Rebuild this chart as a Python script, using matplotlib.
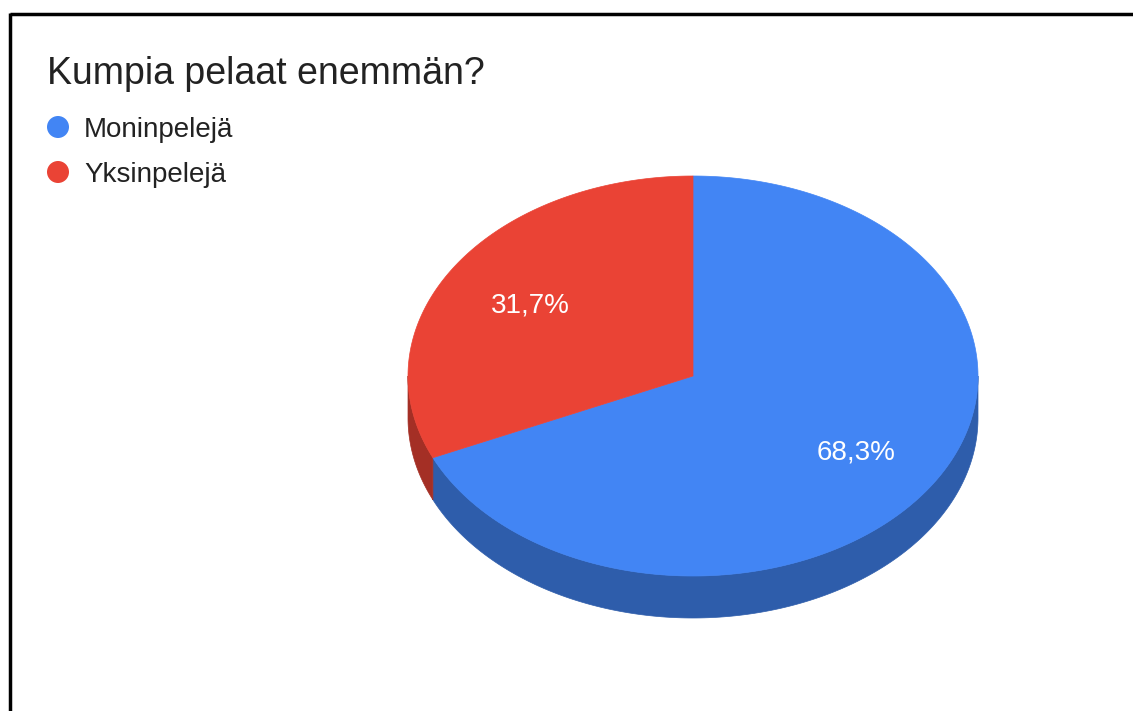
import numpy as np
import matplotlib.pyplot as plt
from matplotlib.patches import Polygon, Circle

plt.rcParams['font.family'] = ['Liberation Sans', 'DejaVu Sans']

# data
title = "Kumpia pelaat enemmän?"
labels = ["Moninpelejä", "Yksinpelejä"]
values = [68.3, 31.7]
colors = ["#4285f4", "#ea4335"]
side_colors = ["#2e5dab", "#a42f25"]

# pie geometry (pixels)
cx, cy = 693, 376
rx, ry = 285, 200
depth = 42

fig = plt.figure(figsize=(11.33, 7.11), dpi=100)
ax = fig.add_axes([0, 0, 1, 1])
ax.set_xlim(0, 1133)
ax.set_ylim(711, 0)
ax.axis('off')


def pt(theta, dy=0):
    # theta in degrees, clockwise from 12 o'clock
    t = np.radians(theta)
    return np.column_stack([cx + rx * np.sin(t), cy - ry * np.cos(t) + dy])


fracs = np.array(values) / sum(values)
starts = np.concatenate([[0], np.cumsum(fracs)[:-1]]) * 360
ends = np.cumsum(fracs) * 360

# side walls (front half only: 90..270 deg)
for s, e, c in zip(starts, ends, side_colors):
    a, b = max(s, 90), min(e, 270)
    if b <= a:
        continue
    th = np.linspace(a, b, 200)
    top = pt(th)
    bot = pt(th[::-1], depth)
    ax.add_patch(Polygon(np.vstack([top, bot]), closed=True, facecolor=c,
                         edgecolor=c, lw=0.5))

# top faces
for s, e, c in zip(starts, ends, colors):
    th = np.linspace(s, e, 300)
    poly = np.vstack([[cx, cy], pt(th)])
    ax.add_patch(Polygon(poly, closed=True, facecolor=c, edgecolor=c, lw=0.5))

# percentage labels
for s, e, v in zip(starts, ends, values):
    m = (s + e) / 2
    t = np.radians(m)
    x = cx + 0.68 * rx * np.sin(t)
    y = cy - 0.68 * ry * np.cos(t)
    ax.text(x, y + 10, f"{v:.1f}%".replace('.', ','), color='white',
            fontsize=20, ha='center', va='baseline')

# title
ax.text(47, 84, title, fontsize=27, ha='left', va='baseline', color='#222222')

# legend
for i, (lab, c) in enumerate(zip(labels, colors)):
    y = 127 + i * 45
    ax.add_patch(Circle((58, y), 11, facecolor=c, edgecolor='none'))
    ax.text(84, y + 10, lab, fontsize=20, ha='left', va='baseline',
            color='#222222')

# frame (top and left border)
ax.plot([10, 1133], [14, 14], color='black', lw=2.5, solid_capstyle='butt')
ax.plot([10, 10], [13, 711], color='black', lw=2.5, solid_capstyle='butt')

fig.savefig('out.png', dpi=100)
